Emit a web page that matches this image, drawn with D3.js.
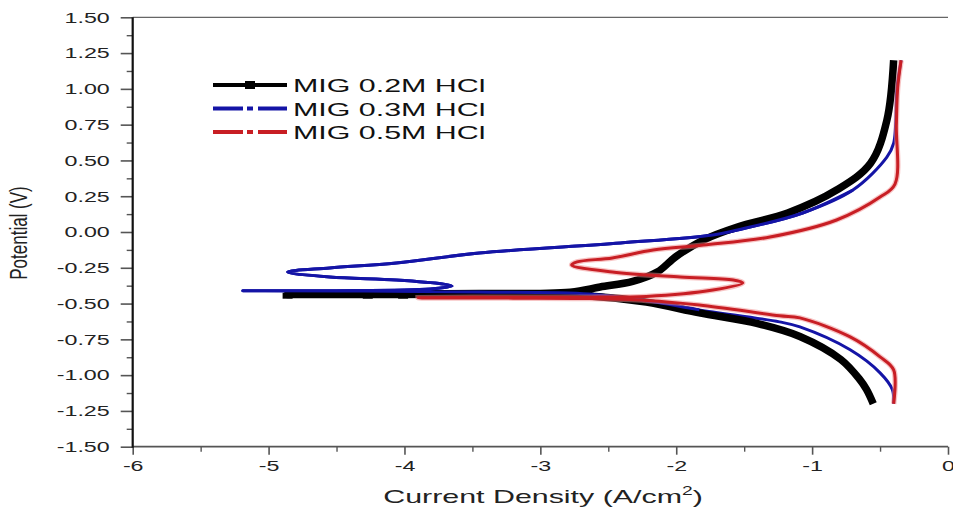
<!DOCTYPE html>
<html><head><meta charset="utf-8">
<script src="https://cdn.jsdelivr.net/npm/d3@7"></script>
<style>body{margin:0;background:#fff} svg{display:block} text{font-family:"Liberation Sans",Arial,sans-serif}</style>
</head><body><svg id="c" width="953" height="514"></svg>
<script>
// ---------- data ----------
const xTicks = [-6, -5, -4, -3, -2, -1, 0];
const xTickLabels = ["-6", "-5", "-4", "-3", "-2", "-1", "0"];
const xMinorTicks = [-5.5, -4.5, -3.5, -2.5, -1.5, -0.5];
const yTicks = [-1.5, -1.25, -1, -0.75, -0.5, -0.25, 0, 0.25, 0.5, 0.75, 1, 1.25, 1.5];
const yTickLabels = ["-1.50", "-1.25", "-1.00", "-0.75", "-0.50", "-0.25", "0.00", "0.25", "0.50", "0.75", "1.00", "1.25", "1.50"];
const yMinorTicks = [-1.375, -1.125, -0.875, -0.625, -0.375, -0.125, 0.125, 0.375, 0.625, 0.875, 1.125, 1.375];

const seriesNames = ["MIG 0.2M HCl", "MIG 0.3M HCl", "MIG 0.5M HCl"];

// log current density (A/cm2) and potential (V), in scan order
const current02 = [-0.55, -0.60, -0.65, -0.79, -1.09, -1.40, -1.83, -2.22, -2.64, -3.45, -4.03, -4.86, -4.03, -3.45, -2.78, -2.56, -2.32, -2.14, -2.00, -1.80, -1.55, -1.18, -0.82, -0.57, -0.45, -0.40];
const potential02 = [-1.20, -1.10, -1.03, -0.89, -0.73, -0.64, -0.565, -0.49, -0.447, -0.436, -0.436, -0.437, -0.432, -0.43, -0.42, -0.384, -0.345, -0.28, -0.17, -0.056, 0.035, 0.133, 0.293, 0.48, 0.78, 1.20];
const markerCurrent02 = [-4.86, -4.27, -4.01];
const markerPotential02 = [-0.445, -0.445, -0.445];

const current03 = [-0.40, -0.41, -0.50, -0.72, -1.09, -1.24, -1.83, -2.22, -2.64, -3.45, -4.30, -5.19, -4.50, -3.81, -3.65, -3.72, -4.06, -4.55, -4.86, -4.55, -4.06, -3.45, -2.41, -1.73, -1.55, -1.07, -0.70, -0.45, -0.40, -0.375, -0.345];
const potential03 = [-1.20, -1.10, -0.984, -0.823, -0.663, -0.628, -0.544, -0.48, -0.433, -0.419, -0.412, -0.41, -0.41, -0.398, -0.377, -0.363, -0.335, -0.314, -0.279, -0.251, -0.216, -0.147, -0.077, -0.021, 0.014, 0.133, 0.293, 0.523, 0.62, 1.01, 1.20];

const current05 = [-0.40, -0.40, -0.50, -0.72, -1.09, -1.24, -1.83, -2.22, -2.64, -3.20, -3.90, -3.20, -2.64, -2.22, -1.73, -1.51, -1.58, -1.97, -2.47, -2.77, -2.73, -2.47, -2.17, -1.80, -1.31, -0.82, -0.50, -0.39, -0.38, -0.37, -0.345];
const potential05 = [-1.20, -0.963, -0.872, -0.733, -0.60, -0.585, -0.51, -0.478, -0.465, -0.462, -0.46, -0.455, -0.455, -0.45, -0.405, -0.356, -0.335, -0.314, -0.279, -0.23, -0.209, -0.181, -0.126, -0.091, -0.035, 0.084, 0.244, 0.335, 0.75, 1.01, 1.20];

// ---------- layout ----------
const svg = d3.select("#c");
const L = 132.7, R = 948, T = 17.3, B = 446.7;
const SX = 1.55; // horizontal text stretch of the reference
const x = d3.scaleLinear().domain([-6, 0]).range([L, R]);
const y = d3.scaleLinear().domain([-1.5, 1.5]).range([B, T]);
const FONT = "Liberation Sans, Arial, sans-serif";

// ---------- curves ----------
const line = d3.line().x(d => x(d[0])).y(d => y(d[1])).curve(d3.curveCatmullRom.alpha(0.5));
const plot = svg.append("g");
plot.append("path").datum(d3.zip(current03, potential03)).attr("d", line)
  .attr("fill", "none").attr("stroke", "#1414a6").attr("stroke-width", 3).attr("stroke-linejoin", "round");
plot.append("path").datum(d3.zip(current02, potential02)).attr("d", line)
  .attr("fill", "none").attr("stroke", "#000").attr("stroke-width", 7.5).attr("stroke-linejoin", "round");
plot.selectAll("rect.m").data(d3.zip(markerCurrent02, markerPotential02)).join("rect")
  .attr("x", d => x(d[0]) - 5).attr("y", d => y(d[1]) - 3).attr("width", 10).attr("height", 6).attr("fill", "#000");
// blue overlay on the flat Ecorr region and upper arm (blue is drawn over black there)
plot.append("path").datum(d3.zip(current03, potential03).slice(6, 27)).attr("d", line)
  .attr("fill", "none").attr("stroke", "#1414a6").attr("stroke-width", 3).attr("stroke-linejoin", "round");
plot.append("path").datum(d3.zip(current05, potential05)).attr("d", line)
  .attr("fill", "none").attr("stroke", "#f08a8a").attr("stroke-opacity", 0.5).attr("stroke-width", 5.5);
plot.append("path").datum(d3.zip(current05, potential05)).attr("d", line)
  .attr("fill", "none").attr("stroke", "#c81e24").attr("stroke-width", 3).attr("stroke-linejoin", "round");

// ---------- axes ----------
const gy = svg.append("g").attr("transform", `translate(${L},0)`)
  .call(d3.axisLeft(y).tickValues(yTicks).tickFormat((d, i) => yTickLabels[i]).tickSize(12).tickSizeOuter(0).tickPadding(11));
gy.attr("font-size", 15).attr("font-family", FONT);
gy.select(".domain").remove();
gy.selectAll(".tick line").attr("stroke", "#555").attr("stroke-width", 1.6);
gy.selectAll(".tick text").attr("fill", "#222").attr("transform", function () {
  const xx = +d3.select(this).attr("x");
  return `translate(${xx},0) scale(${SX},1) translate(${-xx},0)`;
});
svg.append("g").attr("transform", `translate(${L},0)`)
  .call(d3.axisLeft(y).tickValues(yMinorTicks).tickFormat("").tickSize(6).tickSizeOuter(0))
  .call(g => g.select(".domain").remove())
  .selectAll(".tick line").attr("stroke", "#555").attr("stroke-width", 1.4);

const gx = svg.append("g").attr("transform", `translate(0,${B})`)
  .call(d3.axisBottom(x).tickValues(xTicks).tickFormat((d, i) => xTickLabels[i]).tickSize(8).tickSizeOuter(0).tickPadding(6));
gx.attr("font-size", 15).attr("font-family", FONT);
gx.select(".domain").remove();
gx.selectAll(".tick line").attr("stroke", "#555").attr("stroke-width", 1.6);
gx.selectAll(".tick text").attr("fill", "#222").attr("transform", `scale(${SX},1)`);
svg.append("g").attr("transform", `translate(0,${B})`)
  .call(d3.axisBottom(x).tickValues(xMinorTicks).tickFormat("").tickSize(5).tickSizeOuter(0))
  .call(g => g.select(".domain").remove())
  .selectAll(".tick line").attr("stroke", "#555").attr("stroke-width", 1.4);

// frame lines
svg.append("line").attr("x1", L).attr("x2", R).attr("y1", B).attr("y2", B).attr("stroke", "#555").attr("stroke-width", 1.8);
svg.append("line").attr("x1", L).attr("x2", R).attr("y1", T).attr("y2", T).attr("stroke", "#666").attr("stroke-width", 1.3);
svg.append("line").attr("x1", L).attr("x2", L).attr("y1", T).attr("y2", B + 1).attr("stroke", "#111").attr("stroke-width", 2.2);

// ---------- titles ----------
const xt = svg.append("text").attr("font-family", FONT).attr("font-size", 19).attr("fill", "#222")
  .attr("text-anchor", "middle").attr("transform", `translate(543,503) scale(1.6,1)`);
xt.append("tspan").text("Current Density (A/cm");
xt.append("tspan").attr("font-size", 12).attr("dy", -8).text("2");
xt.append("tspan").attr("dy", 8).text(")");

svg.append("text").attr("font-family", FONT).attr("font-size", 17).attr("fill", "#222")
  .attr("text-anchor", "middle").attr("transform", `translate(27,233) scale(1.4,1) rotate(-90)`)
  .text("Potential (V)");

// ---------- legend ----------
const legColors = ["#000", "#1414a6", "#c81e24"];
const leg = svg.append("g");
seriesNames.forEach((name, i) => {
  const ly = 85 + i * 23.5;
  const g = leg.append("g");
  if (i === 0) {
    g.append("line").attr("x1", 213).attr("x2", 287).attr("y1", ly).attr("y2", ly).attr("stroke", "#000").attr("stroke-width", 4);
    g.append("rect").attr("x", 245).attr("y", ly - 4).attr("width", 10).attr("height", 8).attr("fill", "#000");
  } else {
    g.append("line").attr("x1", 213).attr("x2", 287).attr("y1", ly).attr("y2", ly).attr("stroke", legColors[i])
      .attr("stroke-width", 4).attr("stroke-dasharray", "30 4 6 5 30");
  }
  g.append("text").attr("font-family", FONT).attr("font-size", 19).attr("fill", "#111")
    .attr("transform", `translate(293,${ly + 7}) scale(1.6,1)`).text(name);
});
</script></body></html>
